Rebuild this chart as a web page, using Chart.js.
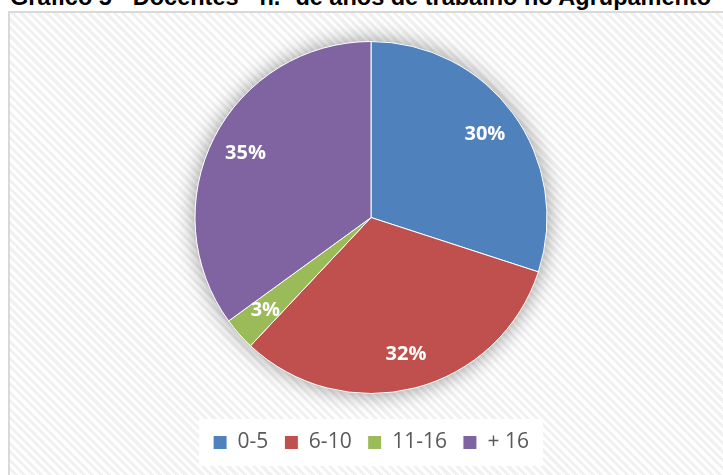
<!DOCTYPE html>
<html>
<head>
<meta charset="utf-8">
<script src="https://cdn.jsdelivr.net/npm/chart.js@4"></script>
<style>
  html, body { margin: 0; padding: 0; background: #fff; }
  body { width: 723px; height: 475px; position: relative; overflow: hidden; }
  #title {
    position: absolute; left: 10px; top: -16px;
    font: bold 23.5px "Liberation Sans", "Open Sans", sans-serif; color: #000;
    white-space: nowrap;
  }
  #frame {
    position: absolute; left: 8px; top: 11px; width: 715px; height: 464px;
    border-left: 2px solid #d9d9d9; border-top: 2px solid #d9d9d9;
    box-sizing: border-box;
    background: repeating-linear-gradient(45deg, #ffffff 0 3px, #f1f1f1 3px 6px);
  }
  #pie { position: absolute; left: 0; top: 0; }
</style>
</head>
<body>
<div id="title">Gráfico 5 - Docentes - n.º de anos de trabalho no Agrupamento</div>
<div id="frame"></div>
<canvas id="pie" width="723" height="475"></canvas>
<script>
const categories = ['0-5', '6-10', '11-16', '+ 16'];
const percents = [30, 32, 3, 35];
const colors = ['#4F81BD', '#C0504D', '#9BBB59', '#8064A2'];

// soft halo behind the pie plus white box behind the legend
const decor = {
  id: 'decor',
  beforeDatasetsDraw(chart) {
    const arc = chart.getDatasetMeta(0).data[0];
    if (!arc) return;
    const ctx = chart.ctx;
    ctx.save();
    ctx.shadowColor = 'rgba(0,0,0,0.45)';
    ctx.shadowBlur = 22;
    ctx.fillStyle = '#ffffff';
    ctx.beginPath();
    ctx.arc(arc.x, arc.y, arc.outerRadius - 1, 0, Math.PI * 2);
    ctx.fill();
    ctx.restore();
  },
  beforeDraw(chart) {
    const boxes = chart.legend && chart.legend.legendHitBoxes;
    if (!boxes || !boxes.length) return;
    const left = Math.min(...boxes.map(b => b.left)) - 14;
    const right = Math.max(...boxes.map(b => b.left + b.width)) + 14;
    const top = Math.min(...boxes.map(b => b.top)) - 13;
    const bottom = Math.max(...boxes.map(b => b.top + b.height)) + 13;
    const ctx = chart.ctx;
    ctx.save();
    ctx.fillStyle = '#ffffff';
    ctx.fillRect(left, top, right - left, bottom - top);
    ctx.restore();
  },
  afterDatasetsDraw(chart) {
    const meta = chart.getDatasetMeta(0);
    const ctx = chart.ctx;
    ctx.save();
    ctx.fillStyle = '#ffffff';
    ctx.font = 'bold 20px "Open Sans", "Liberation Sans", sans-serif';
    ctx.textAlign = 'center';
    ctx.textBaseline = 'middle';
    meta.data.forEach((arc, i) => {
      const mid = (arc.startAngle + arc.endAngle) / 2;
      const r = arc.outerRadius * 0.8;
      ctx.fillText(percents[i] + '%', arc.x + Math.cos(mid) * r, arc.y + Math.sin(mid) * r);
    });
    ctx.restore();
  }
};

new Chart(document.getElementById('pie'), {
  type: 'pie',
  data: {
    labels: categories,
    datasets: [{
      data: percents,
      backgroundColor: colors,
      borderColor: '#ffffff',
      borderWidth: 1
    }]
  },
  options: {
    responsive: false,
    animation: false,
    radius: 176,
    layout: { padding: { top: 19, bottom: 12, left: 19, right: 0 } },
    plugins: {
      tooltip: { enabled: false },
      legend: {
        position: 'bottom',
        labels: {
          color: '#595959',
          font: { size: 21, family: '"Open Sans", "Liberation Sans", sans-serif' },
          boxWidth: 14,
          boxHeight: 14,
          padding: 16
        }
      }
    }
  },
  plugins: [decor]
});
</script>
</body>
</html>
